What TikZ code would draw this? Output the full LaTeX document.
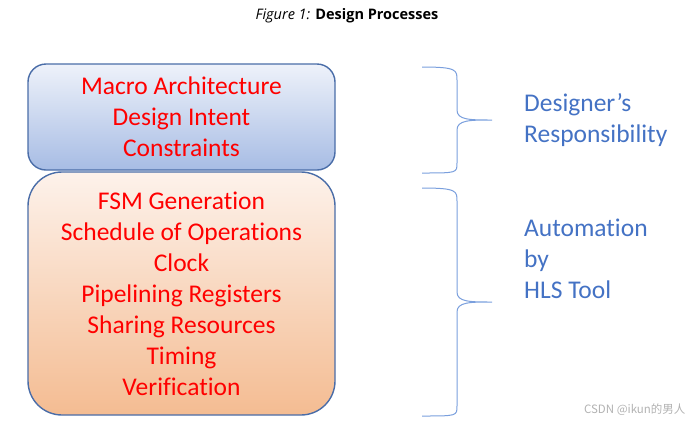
\documentclass[tikz,border=0pt]{standalone}
\usepackage{fontspec}
\setmainfont{Carlito}[Ligatures=NoCommon]
\newfontfamily\capfont{Open Sans}
\newfontfamily\cjk{Noto Sans CJK SC}
\definecolor{boxline}{HTML}{4A6DA8}
\definecolor{blueTop}{HTML}{EEF2FA}
\definecolor{blueBot}{HTML}{A7BCE4}
\definecolor{peachTop}{HTML}{FDF2EB}
\definecolor{peachBot}{HTML}{F4BC92}
\definecolor{braceblue}{HTML}{7A9FDD}
\definecolor{labelblue}{HTML}{4472C4}
\begin{document}
\begin{tikzpicture}[x=1pt,y=-1pt,
  every node/.style={font=\fontsize{25.5}{31}\selectfont},
  stage/.style={draw=boxline,line width=1.4pt,minimum width=307pt,align=center,text=red,inner sep=0pt},
  brace/.style={draw=braceblue,line width=1pt}]
\useasboundingbox (0,0) rectangle (697,424);
\node[font=\capfont\fontsize{14.5}{16}\selectfont] (title) at (347,16) {\textit{Figure 1:} \textbf{Design Processes}};
% the two stages
\node[stage,rounded corners=18pt,minimum height=106pt,top color=blueTop,bottom color=blueBot] (design) at (181.5,117)
  {Macro Architecture\\Design Intent\\Constraints};
\node[stage,rounded corners=34pt,minimum height=243pt,top color=peachTop,bottom color=peachBot] (auto) at (181.5,293.5)
  {FSM Generation\\Schedule of Operations\\Clock\\Pipelining Registers\\Sharing Resources\\Timing\\Verification};
% braces
\coordinate (d1) at (422,67);
\coordinate (dtip) at (492,120);
\coordinate (d2) at (422,173);
\coordinate (a1) at (422,188);
\coordinate (atip) at (492,302);
\coordinate (a2) at (422,416);
\draw[brace] (d1) .. controls (457,67) and (457,70) .. (457,80) -- (457,110)
  .. controls (457,120) and (470,120) .. (dtip) .. controls (470,120) and (457,120) .. (457,130)
  -- (457,163) .. controls (457,173) and (457,173) .. (d2);
\draw[brace] (a1) .. controls (457,188) and (457,191) .. (457,201) -- (457,292)
  .. controls (457,302) and (470,302) .. (atip) .. controls (470,302) and (457,302) .. (457,312)
  -- (457,406) .. controls (457,416) and (457,416) .. (a2);
\node[anchor=west,align=left,text=labelblue,inner sep=0pt] (resp) at (524,120) {Designer’s\\Responsibility};
\node[anchor=west,align=left,text=labelblue,inner sep=0pt] (hls) at (524,259) {Automation\\by\\HLS Tool};
\node[anchor=east,text=black!30,font=\cjk\fontsize{11.5}{13}\selectfont] (mark) at (689,410) {CSDN @ikun的男人};
\end{tikzpicture}
\end{document}
